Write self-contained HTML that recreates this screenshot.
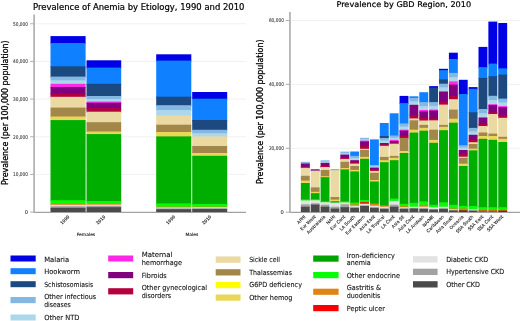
<!DOCTYPE html>
<html lang="en"><head><meta charset="utf-8"><title>Prevalence of Anemia by Etiology</title>
<style>html,body{margin:0;padding:0;background:#fff;}body{width:520px;height:321px;overflow:hidden;}svg{display:block;}#bl,#br{filter:blur(0.35px);}text{font-family:'DejaVu Sans', 'Liberation Sans', sans-serif;fill:#000;stroke:#000;stroke-width:0.2px;}.lg text{stroke:#111;stroke-width:0.1px;fill:#111;}.s text.t{stroke:#333;stroke-width:0.08px;fill:#333;}.s text{stroke:#222;stroke-width:0.12px;fill:#222;}.s text.b{stroke:#000;stroke-width:0.2px;fill:#000;}</style>
</head><body>
<svg width="520" height="321" viewBox="0 0 520 321">
<rect width="520" height="321" fill="#ffffff"/>
<g id="left-chart" class="s">
<line x1="34" y1="174.43" x2="246" y2="174.43" stroke="#ebebeb" stroke-width="0.7"/>
<line x1="34" y1="136.76" x2="246" y2="136.76" stroke="#ebebeb" stroke-width="0.7"/>
<line x1="34" y1="99.09" x2="246" y2="99.09" stroke="#ebebeb" stroke-width="0.7"/>
<line x1="34" y1="61.42" x2="246" y2="61.42" stroke="#ebebeb" stroke-width="0.7"/>
<line x1="34" y1="23.75" x2="246" y2="23.75" stroke="#ebebeb" stroke-width="0.7"/>
<line x1="30.2" y1="212.10" x2="34" y2="212.10" stroke="#8a8a8a" stroke-width="0.7"/>
<text class="t" x="28.0" y="214.00" font-size="5.2" text-anchor="end">0</text>
<line x1="30.2" y1="174.43" x2="34" y2="174.43" stroke="#8a8a8a" stroke-width="0.7"/>
<text class="t" x="28.0" y="176.33" font-size="5.2" text-anchor="end" textLength="15.0" lengthAdjust="spacingAndGlyphs">10,000</text>
<line x1="30.2" y1="136.76" x2="34" y2="136.76" stroke="#8a8a8a" stroke-width="0.7"/>
<text class="t" x="28.0" y="138.66" font-size="5.2" text-anchor="end" textLength="15.0" lengthAdjust="spacingAndGlyphs">20,000</text>
<line x1="30.2" y1="99.09" x2="34" y2="99.09" stroke="#8a8a8a" stroke-width="0.7"/>
<text class="t" x="28.0" y="100.99" font-size="5.2" text-anchor="end" textLength="15.0" lengthAdjust="spacingAndGlyphs">30,000</text>
<line x1="30.2" y1="61.42" x2="34" y2="61.42" stroke="#8a8a8a" stroke-width="0.7"/>
<text class="t" x="28.0" y="63.32" font-size="5.2" text-anchor="end" textLength="15.0" lengthAdjust="spacingAndGlyphs">40,000</text>
<line x1="30.2" y1="23.75" x2="34" y2="23.75" stroke="#8a8a8a" stroke-width="0.7"/>
<text class="t" x="28.0" y="25.65" font-size="5.2" text-anchor="end" textLength="15.0" lengthAdjust="spacingAndGlyphs">50,000</text>
<line x1="33.8" y1="212.3" x2="246" y2="212.3" stroke="#8a8a8a" stroke-width="1"/>
<g id="bl">
<rect x="50.50" y="36.10" width="35.10" height="7.90" fill="#0000e6"/><rect x="50.50" y="43.00" width="35.10" height="24.30" fill="#0f80ff"/><rect x="50.50" y="66.30" width="35.10" height="11.30" fill="#1c4a80"/><rect x="50.50" y="76.60" width="35.10" height="4.70" fill="#84b8e3"/><rect x="50.50" y="80.30" width="35.10" height="4.50" fill="#acd7ea"/><rect x="50.50" y="83.80" width="35.10" height="4.20" fill="#ff28e8"/><rect x="50.50" y="87.00" width="35.10" height="7.60" fill="#800080"/><rect x="50.50" y="93.60" width="35.10" height="4.20" fill="#b4003c"/><rect x="50.50" y="96.80" width="35.10" height="11.80" fill="#ead9a2"/><rect x="50.50" y="107.60" width="35.10" height="9.90" fill="#a3874a"/><rect x="50.50" y="116.50" width="35.10" height="4.60" fill="#ead658"/><rect x="50.50" y="120.10" width="35.10" height="81.10" fill="#00ae00"/><rect x="50.50" y="200.20" width="35.10" height="4.40" fill="#08fa08"/><rect x="50.50" y="203.60" width="35.10" height="2.20" fill="#e08214"/><rect x="50.50" y="204.80" width="35.10" height="2.50" fill="#e2e2e2"/><rect x="50.50" y="206.30" width="35.10" height="2.50" fill="#a2a2a2"/><rect x="50.50" y="207.80" width="35.10" height="4.20" fill="#4a4a4a"/>
<rect x="86.50" y="60.30" width="34.70" height="8.30" fill="#0000e6"/><rect x="86.50" y="67.60" width="34.70" height="17.20" fill="#0f80ff"/><rect x="86.50" y="83.80" width="34.70" height="13.20" fill="#1c4a80"/><rect x="86.50" y="96.00" width="34.70" height="4.00" fill="#84b8e3"/><rect x="86.50" y="99.00" width="34.70" height="3.60" fill="#acd7ea"/><rect x="86.50" y="101.60" width="34.70" height="2.20" fill="#ff28e8"/><rect x="86.50" y="102.80" width="34.70" height="6.40" fill="#800080"/><rect x="86.50" y="108.20" width="34.70" height="4.50" fill="#b4003c"/><rect x="86.50" y="111.70" width="34.70" height="11.50" fill="#ead9a2"/><rect x="86.50" y="122.20" width="34.70" height="10.30" fill="#a3874a"/><rect x="86.50" y="131.50" width="34.70" height="3.60" fill="#ead658"/><rect x="86.50" y="134.10" width="34.70" height="67.90" fill="#00ae00"/><rect x="86.50" y="201.00" width="34.70" height="3.60" fill="#08fa08"/><rect x="86.50" y="203.60" width="34.70" height="2.00" fill="#e08214"/><rect x="86.50" y="204.60" width="34.70" height="2.20" fill="#e2e2e2"/><rect x="86.50" y="205.80" width="34.70" height="2.40" fill="#a2a2a2"/><rect x="86.50" y="207.20" width="34.70" height="4.80" fill="#4a4a4a"/>
<rect x="156.20" y="54.30" width="35.10" height="7.30" fill="#0000e6"/><rect x="156.20" y="60.60" width="35.10" height="37.10" fill="#0f80ff"/><rect x="156.20" y="96.70" width="35.10" height="9.50" fill="#1c4a80"/><rect x="156.20" y="105.20" width="35.10" height="5.80" fill="#84b8e3"/><rect x="156.20" y="110.00" width="35.10" height="6.40" fill="#acd7ea"/><rect x="156.20" y="115.40" width="35.10" height="10.30" fill="#ead9a2"/><rect x="156.20" y="124.70" width="35.10" height="8.30" fill="#a3874a"/><rect x="156.20" y="132.00" width="35.10" height="5.40" fill="#ead658"/><rect x="156.20" y="136.40" width="35.10" height="68.00" fill="#00ae00"/><rect x="156.20" y="203.40" width="35.10" height="4.20" fill="#08fa08"/><rect x="156.20" y="206.60" width="35.10" height="1.80" fill="#e08214"/><rect x="156.20" y="207.40" width="35.10" height="2.00" fill="#e2e2e2"/><rect x="156.20" y="208.40" width="35.10" height="1.80" fill="#a2a2a2"/><rect x="156.20" y="209.20" width="35.10" height="2.80" fill="#4a4a4a"/>
<rect x="192.20" y="92.00" width="35.00" height="7.70" fill="#0000e6"/><rect x="192.20" y="98.70" width="35.00" height="22.30" fill="#0f80ff"/><rect x="192.20" y="120.00" width="35.00" height="10.80" fill="#1c4a80"/><rect x="192.20" y="129.80" width="35.00" height="4.40" fill="#84b8e3"/><rect x="192.20" y="133.20" width="35.00" height="4.20" fill="#acd7ea"/><rect x="192.20" y="136.40" width="35.00" height="10.60" fill="#ead9a2"/><rect x="192.20" y="146.00" width="35.00" height="8.00" fill="#a3874a"/><rect x="192.20" y="153.00" width="35.00" height="3.80" fill="#ead658"/><rect x="192.20" y="155.80" width="35.00" height="49.20" fill="#00ae00"/><rect x="192.20" y="204.00" width="35.00" height="3.60" fill="#08fa08"/><rect x="192.20" y="206.60" width="35.00" height="1.60" fill="#e08214"/><rect x="192.20" y="207.20" width="35.00" height="2.00" fill="#e2e2e2"/><rect x="192.20" y="208.20" width="35.00" height="1.80" fill="#a2a2a2"/><rect x="192.20" y="209.00" width="35.00" height="3.00" fill="#4a4a4a"/>
</g>
<line x1="34.1" y1="14.5" x2="34.1" y2="212.8" stroke="#b0b0b0" stroke-width="1.7"/>
<text class="b" x="33" y="10.45" font-size="8.05" textLength="211.5" lengthAdjust="spacingAndGlyphs">Prevalence of Anemia by Etiology, 1990 and 2010</text>
<text class="b" transform="translate(7.8,185) rotate(-90)" font-size="8.1" style="stroke-width:0.3px" textLength="144.6" lengthAdjust="spacingAndGlyphs">Prevalence (per 100,000 population)</text>
<text transform="translate(69.80,217.1) rotate(-45)" font-size="4.3" text-anchor="end">1990</text>
<text transform="translate(105.60,217.1) rotate(-45)" font-size="4.3" text-anchor="end">2010</text>
<text transform="translate(175.50,217.1) rotate(-45)" font-size="4.3" text-anchor="end">1990</text>
<text transform="translate(211.50,217.1) rotate(-45)" font-size="4.3" text-anchor="end">2010</text>
<text x="86" y="235.6" font-size="4.45" text-anchor="middle">Females</text>
<text x="191.8" y="235.6" font-size="4.45" text-anchor="middle">Males</text>
</g>
<g id="right-chart" class="s">
<line x1="290" y1="148.30" x2="520" y2="148.30" stroke="#ebebeb" stroke-width="0.7"/>
<line x1="290" y1="84.40" x2="520" y2="84.40" stroke="#ebebeb" stroke-width="0.7"/>
<line x1="290" y1="20.50" x2="520" y2="20.50" stroke="#ebebeb" stroke-width="0.7"/>
<line x1="285.8" y1="212.20" x2="290" y2="212.20" stroke="#8a8a8a" stroke-width="0.7"/>
<text class="t" x="283.9" y="214.10" font-size="5.2" text-anchor="end">0</text>
<line x1="285.8" y1="148.30" x2="290" y2="148.30" stroke="#8a8a8a" stroke-width="0.7"/>
<text class="t" x="283.9" y="150.20" font-size="5.2" text-anchor="end" textLength="15.0" lengthAdjust="spacingAndGlyphs">20,000</text>
<line x1="285.8" y1="84.40" x2="290" y2="84.40" stroke="#8a8a8a" stroke-width="0.7"/>
<text class="t" x="283.9" y="86.30" font-size="5.2" text-anchor="end" textLength="15.0" lengthAdjust="spacingAndGlyphs">40,000</text>
<line x1="285.8" y1="20.50" x2="290" y2="20.50" stroke="#8a8a8a" stroke-width="0.7"/>
<text class="t" x="283.9" y="22.40" font-size="5.2" text-anchor="end" textLength="15.0" lengthAdjust="spacingAndGlyphs">60,000</text>
<line x1="289.7" y1="212.3" x2="520" y2="212.3" stroke="#8a8a8a" stroke-width="1"/>
<g id="br">
<rect x="300.85" y="161.80" width="8.92" height="2.40" fill="#84b8e3"/><rect x="300.85" y="163.20" width="8.92" height="1.60" fill="#ff28e8"/><rect x="300.85" y="163.80" width="8.92" height="4.00" fill="#800080"/><rect x="300.85" y="166.80" width="8.92" height="2.00" fill="#b4003c"/><rect x="300.85" y="167.80" width="8.92" height="9.00" fill="#ead9a2"/><rect x="300.85" y="175.80" width="8.92" height="5.80" fill="#a3874a"/><rect x="300.85" y="180.60" width="8.92" height="3.40" fill="#ead658"/><rect x="300.85" y="183.00" width="8.92" height="17.40" fill="#00ae00"/><rect x="300.85" y="199.40" width="8.92" height="2.00" fill="#08fa08"/><rect x="300.85" y="200.40" width="8.92" height="4.90" fill="#e2e2e2"/><rect x="300.85" y="204.30" width="8.92" height="3.40" fill="#a2a2a2"/><rect x="300.85" y="206.70" width="8.92" height="5.30" fill="#4a4a4a"/>
<rect x="310.72" y="169.30" width="8.92" height="2.30" fill="#800080"/><rect x="310.72" y="170.60" width="8.92" height="17.80" fill="#ead9a2"/><rect x="310.72" y="187.40" width="8.92" height="5.40" fill="#a3874a"/><rect x="310.72" y="191.80" width="8.92" height="2.40" fill="#ead658"/><rect x="310.72" y="193.20" width="8.92" height="7.00" fill="#00ae00"/><rect x="310.72" y="199.20" width="8.92" height="2.00" fill="#08fa08"/><rect x="310.72" y="200.20" width="8.92" height="4.10" fill="#e2e2e2"/><rect x="310.72" y="203.30" width="8.92" height="2.30" fill="#a2a2a2"/><rect x="310.72" y="204.60" width="8.92" height="7.40" fill="#4a4a4a"/>
<rect x="320.59" y="160.30" width="8.92" height="2.30" fill="#84b8e3"/><rect x="320.59" y="161.60" width="8.92" height="2.30" fill="#acd7ea"/><rect x="320.59" y="162.90" width="8.92" height="4.10" fill="#800080"/><rect x="320.59" y="166.00" width="8.92" height="2.00" fill="#b4003c"/><rect x="320.59" y="167.00" width="8.92" height="4.00" fill="#ead9a2"/><rect x="320.59" y="170.00" width="8.92" height="7.20" fill="#a3874a"/><rect x="320.59" y="176.20" width="8.92" height="2.00" fill="#ead658"/><rect x="320.59" y="177.20" width="8.92" height="25.20" fill="#00ae00"/><rect x="320.59" y="201.40" width="8.92" height="1.80" fill="#08fa08"/><rect x="320.59" y="202.20" width="8.92" height="3.50" fill="#e2e2e2"/><rect x="320.59" y="204.70" width="8.92" height="3.00" fill="#a2a2a2"/><rect x="320.59" y="206.70" width="8.92" height="5.30" fill="#4a4a4a"/>
<rect x="330.46" y="169.00" width="8.92" height="2.20" fill="#84b8e3"/><rect x="330.46" y="170.20" width="8.92" height="27.80" fill="#ead9a2"/><rect x="330.46" y="197.00" width="8.92" height="3.60" fill="#a3874a"/><rect x="330.46" y="199.60" width="8.92" height="2.60" fill="#ead658"/><rect x="330.46" y="201.20" width="8.92" height="2.40" fill="#00ae00"/><rect x="330.46" y="202.60" width="8.92" height="5.10" fill="#e2e2e2"/><rect x="330.46" y="206.70" width="8.92" height="2.90" fill="#a2a2a2"/><rect x="330.46" y="208.60" width="8.92" height="3.40" fill="#4a4a4a"/>
<rect x="340.33" y="151.60" width="8.92" height="2.50" fill="#84b8e3"/><rect x="340.33" y="153.10" width="8.92" height="2.50" fill="#acd7ea"/><rect x="340.33" y="154.60" width="8.92" height="4.00" fill="#800080"/><rect x="340.33" y="157.60" width="8.92" height="2.30" fill="#b4003c"/><rect x="340.33" y="158.90" width="8.92" height="3.90" fill="#ead9a2"/><rect x="340.33" y="161.80" width="8.92" height="7.20" fill="#a3874a"/><rect x="340.33" y="168.00" width="8.92" height="2.40" fill="#ead658"/><rect x="340.33" y="169.40" width="8.92" height="33.00" fill="#00ae00"/><rect x="340.33" y="201.40" width="8.92" height="2.00" fill="#08fa08"/><rect x="340.33" y="202.40" width="8.92" height="2.90" fill="#e2e2e2"/><rect x="340.33" y="204.30" width="8.92" height="3.90" fill="#a2a2a2"/><rect x="340.33" y="207.20" width="8.92" height="4.80" fill="#4a4a4a"/>
<rect x="350.20" y="151.50" width="8.92" height="5.40" fill="#0f80ff"/><rect x="350.20" y="155.90" width="8.92" height="3.15" fill="#84b8e3"/><rect x="350.20" y="158.05" width="8.92" height="3.15" fill="#acd7ea"/><rect x="350.20" y="160.20" width="8.92" height="3.00" fill="#800080"/><rect x="350.20" y="162.20" width="8.92" height="2.40" fill="#b4003c"/><rect x="350.20" y="163.60" width="8.92" height="3.40" fill="#ead9a2"/><rect x="350.20" y="166.00" width="8.92" height="4.90" fill="#a3874a"/><rect x="350.20" y="169.90" width="8.92" height="2.50" fill="#ead658"/><rect x="350.20" y="171.40" width="8.92" height="32.20" fill="#00ae00"/><rect x="350.20" y="202.60" width="8.92" height="2.70" fill="#08fa08"/><rect x="350.20" y="204.30" width="8.92" height="2.40" fill="#e08214"/><rect x="350.20" y="205.70" width="8.92" height="2.90" fill="#e2e2e2"/><rect x="350.20" y="207.60" width="8.92" height="4.40" fill="#4a4a4a"/>
<rect x="360.07" y="137.80" width="8.92" height="2.40" fill="#84b8e3"/><rect x="360.07" y="139.20" width="8.92" height="2.40" fill="#acd7ea"/><rect x="360.07" y="140.60" width="8.92" height="1.90" fill="#ff28e8"/><rect x="360.07" y="141.50" width="8.92" height="5.60" fill="#800080"/><rect x="360.07" y="146.10" width="8.92" height="3.70" fill="#b4003c"/><rect x="360.07" y="148.80" width="8.92" height="2.20" fill="#ead9a2"/><rect x="360.07" y="150.00" width="8.92" height="7.90" fill="#a3874a"/><rect x="360.07" y="156.90" width="8.92" height="2.90" fill="#ead658"/><rect x="360.07" y="158.80" width="8.92" height="42.20" fill="#00ae00"/><rect x="360.07" y="200.00" width="8.92" height="2.90" fill="#08fa08"/><rect x="360.07" y="201.90" width="8.92" height="2.90" fill="#e02810"/><rect x="360.07" y="203.80" width="8.92" height="2.90" fill="#e2e2e2"/><rect x="360.07" y="205.70" width="8.92" height="6.30" fill="#4a4a4a"/>
<rect x="369.94" y="139.40" width="8.92" height="26.60" fill="#0f80ff"/><rect x="369.94" y="165.00" width="8.92" height="2.30" fill="#84b8e3"/><rect x="369.94" y="166.30" width="8.92" height="2.30" fill="#acd7ea"/><rect x="369.94" y="167.60" width="8.92" height="2.80" fill="#800080"/><rect x="369.94" y="169.40" width="8.92" height="2.50" fill="#b4003c"/><rect x="369.94" y="170.90" width="8.92" height="2.90" fill="#ead9a2"/><rect x="369.94" y="172.80" width="8.92" height="8.20" fill="#a3874a"/><rect x="369.94" y="180.00" width="8.92" height="2.50" fill="#ead658"/><rect x="369.94" y="181.50" width="8.92" height="23.10" fill="#00ae00"/><rect x="369.94" y="203.60" width="8.92" height="3.10" fill="#e08214"/><rect x="369.94" y="205.70" width="8.92" height="2.90" fill="#e2e2e2"/><rect x="369.94" y="207.60" width="8.92" height="4.40" fill="#4a4a4a"/>
<rect x="379.81" y="123.00" width="8.92" height="14.00" fill="#0f80ff"/><rect x="379.81" y="136.00" width="8.92" height="3.00" fill="#1c4a80"/><rect x="379.81" y="138.00" width="8.92" height="3.50" fill="#84b8e3"/><rect x="379.81" y="140.50" width="8.92" height="3.50" fill="#acd7ea"/><rect x="379.81" y="143.00" width="8.92" height="2.40" fill="#800080"/><rect x="379.81" y="144.40" width="8.92" height="2.40" fill="#b4003c"/><rect x="379.81" y="145.80" width="8.92" height="12.10" fill="#ead9a2"/><rect x="379.81" y="156.90" width="8.92" height="4.30" fill="#a3874a"/><rect x="379.81" y="160.20" width="8.92" height="3.00" fill="#ead658"/><rect x="379.81" y="162.20" width="8.92" height="44.20" fill="#00ae00"/><rect x="379.81" y="205.40" width="8.92" height="2.30" fill="#e08214"/><rect x="379.81" y="206.70" width="8.92" height="2.90" fill="#e2e2e2"/><rect x="379.81" y="208.60" width="8.92" height="3.40" fill="#4a4a4a"/>
<rect x="389.68" y="113.30" width="8.92" height="23.20" fill="#0f80ff"/><rect x="389.68" y="135.50" width="8.92" height="3.20" fill="#84b8e3"/><rect x="389.68" y="137.70" width="8.92" height="3.20" fill="#acd7ea"/><rect x="389.68" y="139.90" width="8.92" height="2.10" fill="#ff28e8"/><rect x="389.68" y="141.00" width="8.92" height="2.60" fill="#800080"/><rect x="389.68" y="142.60" width="8.92" height="2.10" fill="#b4003c"/><rect x="389.68" y="143.70" width="8.92" height="13.20" fill="#ead9a2"/><rect x="389.68" y="155.90" width="8.92" height="2.90" fill="#a3874a"/><rect x="389.68" y="157.80" width="8.92" height="3.40" fill="#ead658"/><rect x="389.68" y="160.20" width="8.92" height="39.30" fill="#00ae00"/><rect x="389.68" y="198.50" width="8.92" height="3.40" fill="#08fa08"/><rect x="389.68" y="200.90" width="8.92" height="4.80" fill="#e2e2e2"/><rect x="389.68" y="204.70" width="8.92" height="3.00" fill="#a2a2a2"/><rect x="389.68" y="206.70" width="8.92" height="5.30" fill="#4a4a4a"/>
<rect x="399.55" y="95.90" width="8.92" height="8.20" fill="#0000e6"/><rect x="399.55" y="103.10" width="8.92" height="21.30" fill="#0f80ff"/><rect x="399.55" y="123.40" width="8.92" height="4.15" fill="#84b8e3"/><rect x="399.55" y="126.55" width="8.92" height="4.15" fill="#acd7ea"/><rect x="399.55" y="129.70" width="8.92" height="1.90" fill="#ff28e8"/><rect x="399.55" y="130.60" width="8.92" height="5.90" fill="#800080"/><rect x="399.55" y="135.50" width="8.92" height="3.40" fill="#b4003c"/><rect x="399.55" y="137.90" width="8.92" height="14.10" fill="#a3874a"/><rect x="399.55" y="151.00" width="8.92" height="3.00" fill="#ead658"/><rect x="399.55" y="153.00" width="8.92" height="51.80" fill="#00ae00"/><rect x="399.55" y="203.80" width="8.92" height="3.40" fill="#08fa08"/><rect x="399.55" y="206.20" width="8.92" height="2.00" fill="#e08214"/><rect x="399.55" y="207.20" width="8.92" height="2.40" fill="#e2e2e2"/><rect x="399.55" y="208.60" width="8.92" height="3.40" fill="#4a4a4a"/>
<rect x="409.42" y="96.30" width="8.92" height="2.60" fill="#0f80ff"/><rect x="409.42" y="97.90" width="8.92" height="4.45" fill="#84b8e3"/><rect x="409.42" y="101.35" width="8.92" height="4.45" fill="#acd7ea"/><rect x="409.42" y="104.80" width="8.92" height="11.00" fill="#800080"/><rect x="409.42" y="114.80" width="8.92" height="4.60" fill="#b4003c"/><rect x="409.42" y="118.40" width="8.92" height="2.90" fill="#ead9a2"/><rect x="409.42" y="120.30" width="8.92" height="10.40" fill="#a3874a"/><rect x="409.42" y="129.70" width="8.92" height="3.90" fill="#ead658"/><rect x="409.42" y="132.60" width="8.92" height="71.20" fill="#00ae00"/><rect x="409.42" y="202.80" width="8.92" height="4.90" fill="#08fa08"/><rect x="409.42" y="206.70" width="8.92" height="2.60" fill="#e2e2e2"/><rect x="409.42" y="208.30" width="8.92" height="3.70" fill="#4a4a4a"/>
<rect x="419.29" y="92.20" width="8.92" height="10.90" fill="#0f80ff"/><rect x="419.29" y="102.10" width="8.92" height="4.95" fill="#84b8e3"/><rect x="419.29" y="106.05" width="8.92" height="4.95" fill="#acd7ea"/><rect x="419.29" y="110.00" width="8.92" height="2.50" fill="#ff28e8"/><rect x="419.29" y="111.50" width="8.92" height="7.10" fill="#800080"/><rect x="419.29" y="117.60" width="8.92" height="3.90" fill="#b4003c"/><rect x="419.29" y="120.50" width="8.92" height="5.40" fill="#ead9a2"/><rect x="419.29" y="124.90" width="8.92" height="3.90" fill="#a3874a"/><rect x="419.29" y="127.80" width="8.92" height="3.90" fill="#ead658"/><rect x="419.29" y="130.70" width="8.92" height="71.70" fill="#00ae00"/><rect x="419.29" y="201.40" width="8.92" height="4.40" fill="#08fa08"/><rect x="419.29" y="204.80" width="8.92" height="2.90" fill="#e08214"/><rect x="419.29" y="206.70" width="8.92" height="2.90" fill="#e2e2e2"/><rect x="419.29" y="208.60" width="8.92" height="3.40" fill="#4a4a4a"/>
<rect x="429.16" y="86.10" width="8.92" height="2.50" fill="#0000e6"/><rect x="429.16" y="87.60" width="8.92" height="15.50" fill="#1c4a80"/><rect x="429.16" y="102.10" width="8.92" height="4.75" fill="#84b8e3"/><rect x="429.16" y="105.85" width="8.92" height="4.75" fill="#acd7ea"/><rect x="429.16" y="109.60" width="8.92" height="2.00" fill="#ff28e8"/><rect x="429.16" y="110.60" width="8.92" height="8.70" fill="#800080"/><rect x="429.16" y="118.30" width="8.92" height="3.00" fill="#b4003c"/><rect x="429.16" y="120.30" width="8.92" height="10.40" fill="#ead9a2"/><rect x="429.16" y="129.70" width="8.92" height="11.20" fill="#a3874a"/><rect x="429.16" y="139.90" width="8.92" height="3.90" fill="#ead658"/><rect x="429.16" y="142.80" width="8.92" height="63.00" fill="#00ae00"/><rect x="429.16" y="204.80" width="8.92" height="3.40" fill="#08fa08"/><rect x="429.16" y="207.20" width="8.92" height="3.20" fill="#e2e2e2"/><rect x="429.16" y="209.40" width="8.92" height="2.60" fill="#4a4a4a"/>
<rect x="439.03" y="68.80" width="8.92" height="2.40" fill="#0000e6"/><rect x="439.03" y="70.20" width="8.92" height="10.20" fill="#0f80ff"/><rect x="439.03" y="79.40" width="8.92" height="5.30" fill="#1c4a80"/><rect x="439.03" y="83.70" width="8.92" height="4.65" fill="#84b8e3"/><rect x="439.03" y="87.35" width="8.92" height="4.65" fill="#acd7ea"/><rect x="439.03" y="91.00" width="8.92" height="2.00" fill="#ff28e8"/><rect x="439.03" y="92.00" width="8.92" height="10.60" fill="#800080"/><rect x="439.03" y="101.60" width="8.92" height="4.00" fill="#b4003c"/><rect x="439.03" y="104.60" width="8.92" height="21.30" fill="#ead9a2"/><rect x="439.03" y="124.90" width="8.92" height="2.90" fill="#a3874a"/><rect x="439.03" y="126.80" width="8.92" height="4.40" fill="#ead658"/><rect x="439.03" y="130.20" width="8.92" height="73.10" fill="#00ae00"/><rect x="439.03" y="202.30" width="8.92" height="5.40" fill="#08fa08"/><rect x="439.03" y="206.70" width="8.92" height="2.90" fill="#e2e2e2"/><rect x="439.03" y="208.60" width="8.92" height="3.40" fill="#4a4a4a"/>
<rect x="448.90" y="52.70" width="8.92" height="7.30" fill="#0000e6"/><rect x="448.90" y="59.00" width="8.92" height="14.90" fill="#0f80ff"/><rect x="448.90" y="72.90" width="8.92" height="5.25" fill="#84b8e3"/><rect x="448.90" y="77.15" width="8.92" height="5.25" fill="#acd7ea"/><rect x="448.90" y="81.40" width="8.92" height="4.20" fill="#ff28e8"/><rect x="448.90" y="84.60" width="8.92" height="12.20" fill="#800080"/><rect x="448.90" y="95.80" width="8.92" height="4.40" fill="#b4003c"/><rect x="448.90" y="99.20" width="8.92" height="11.40" fill="#ead9a2"/><rect x="448.90" y="109.60" width="8.92" height="10.10" fill="#a3874a"/><rect x="448.90" y="118.70" width="8.92" height="5.00" fill="#ead658"/><rect x="448.90" y="122.70" width="8.92" height="83.10" fill="#00ae00"/><rect x="448.90" y="204.80" width="8.92" height="4.60" fill="#08fa08"/><rect x="448.90" y="208.40" width="8.92" height="1.90" fill="#e08214"/><rect x="448.90" y="209.30" width="8.92" height="2.00" fill="#e2e2e2"/><rect x="448.90" y="210.30" width="8.92" height="1.70" fill="#4a4a4a"/>
<rect x="458.77" y="79.80" width="8.92" height="15.20" fill="#0000e6"/><rect x="458.77" y="94.00" width="8.92" height="52.20" fill="#0f80ff"/><rect x="458.77" y="145.20" width="8.92" height="3.40" fill="#84b8e3"/><rect x="458.77" y="147.60" width="8.92" height="3.40" fill="#acd7ea"/><rect x="458.77" y="150.00" width="8.92" height="4.80" fill="#800080"/><rect x="458.77" y="153.80" width="8.92" height="3.90" fill="#b4003c"/><rect x="458.77" y="156.70" width="8.92" height="2.20" fill="#ead9a2"/><rect x="458.77" y="157.90" width="8.92" height="6.70" fill="#a3874a"/><rect x="458.77" y="163.60" width="8.92" height="3.40" fill="#ead658"/><rect x="458.77" y="166.00" width="8.92" height="40.90" fill="#00ae00"/><rect x="458.77" y="205.90" width="8.92" height="3.60" fill="#08fa08"/><rect x="458.77" y="208.50" width="8.92" height="2.80" fill="#e08214"/><rect x="458.77" y="210.30" width="8.92" height="1.70" fill="#6a2a22"/>
<rect x="468.64" y="87.10" width="8.92" height="2.70" fill="#0000e6"/><rect x="468.64" y="88.80" width="8.92" height="24.50" fill="#0f80ff"/><rect x="468.64" y="112.30" width="8.92" height="16.60" fill="#1c4a80"/><rect x="468.64" y="127.90" width="8.92" height="4.45" fill="#84b8e3"/><rect x="468.64" y="131.35" width="8.92" height="4.45" fill="#acd7ea"/><rect x="468.64" y="134.80" width="8.92" height="6.20" fill="#800080"/><rect x="468.64" y="140.00" width="8.92" height="3.20" fill="#b4003c"/><rect x="468.64" y="142.20" width="8.92" height="2.80" fill="#ead9a2"/><rect x="468.64" y="144.00" width="8.92" height="5.60" fill="#a3874a"/><rect x="468.64" y="148.60" width="8.92" height="2.80" fill="#ead658"/><rect x="468.64" y="150.40" width="8.92" height="56.60" fill="#00ae00"/><rect x="468.64" y="206.00" width="8.92" height="4.30" fill="#08fa08"/><rect x="468.64" y="209.30" width="8.92" height="2.20" fill="#e2e2e2"/><rect x="468.64" y="210.50" width="8.92" height="1.50" fill="#4a4a4a"/>
<rect x="478.51" y="46.90" width="8.92" height="21.20" fill="#0000e6"/><rect x="478.51" y="67.10" width="8.92" height="11.80" fill="#0f80ff"/><rect x="478.51" y="77.90" width="8.92" height="32.10" fill="#1c4a80"/><rect x="478.51" y="109.00" width="8.92" height="5.25" fill="#84b8e3"/><rect x="478.51" y="113.25" width="8.92" height="5.25" fill="#acd7ea"/><rect x="478.51" y="117.50" width="8.92" height="7.30" fill="#800080"/><rect x="478.51" y="123.80" width="8.92" height="3.20" fill="#b4003c"/><rect x="478.51" y="126.00" width="8.92" height="7.50" fill="#ead9a2"/><rect x="478.51" y="132.50" width="8.92" height="4.50" fill="#a3874a"/><rect x="478.51" y="136.00" width="8.92" height="3.80" fill="#ead658"/><rect x="478.51" y="138.80" width="8.92" height="69.40" fill="#00ae00"/><rect x="478.51" y="207.20" width="8.92" height="3.30" fill="#08fa08"/><rect x="478.51" y="209.50" width="8.92" height="2.00" fill="#e08214"/><rect x="478.51" y="210.50" width="8.92" height="1.50" fill="#9a5a28"/>
<rect x="488.38" y="21.60" width="8.92" height="43.00" fill="#0000e6"/><rect x="488.38" y="63.60" width="8.92" height="13.60" fill="#0f80ff"/><rect x="488.38" y="76.20" width="8.92" height="20.60" fill="#1c4a80"/><rect x="488.38" y="95.80" width="8.92" height="5.20" fill="#84b8e3"/><rect x="488.38" y="100.00" width="8.92" height="5.20" fill="#acd7ea"/><rect x="488.38" y="104.20" width="8.92" height="2.00" fill="#ff28e8"/><rect x="488.38" y="105.20" width="8.92" height="8.10" fill="#800080"/><rect x="488.38" y="112.30" width="8.92" height="2.70" fill="#b4003c"/><rect x="488.38" y="114.00" width="8.92" height="20.60" fill="#ead9a2"/><rect x="488.38" y="133.60" width="8.92" height="3.40" fill="#a3874a"/><rect x="488.38" y="136.00" width="8.92" height="4.80" fill="#ead658"/><rect x="488.38" y="139.80" width="8.92" height="68.40" fill="#00ae00"/><rect x="488.38" y="207.20" width="8.92" height="3.40" fill="#08fa08"/><rect x="488.38" y="209.60" width="8.92" height="2.00" fill="#e08214"/><rect x="488.38" y="210.60" width="8.92" height="1.40" fill="#9a5a28"/>
<rect x="498.25" y="23.00" width="8.92" height="46.30" fill="#0000e6"/><rect x="498.25" y="68.30" width="8.92" height="7.30" fill="#0f80ff"/><rect x="498.25" y="74.60" width="8.92" height="25.00" fill="#1c4a80"/><rect x="498.25" y="98.60" width="8.92" height="4.75" fill="#84b8e3"/><rect x="498.25" y="102.35" width="8.92" height="4.75" fill="#acd7ea"/><rect x="498.25" y="106.10" width="8.92" height="2.20" fill="#ff28e8"/><rect x="498.25" y="107.30" width="8.92" height="8.90" fill="#800080"/><rect x="498.25" y="115.20" width="8.92" height="3.60" fill="#b4003c"/><rect x="498.25" y="117.80" width="8.92" height="20.00" fill="#ead9a2"/><rect x="498.25" y="136.80" width="8.92" height="3.00" fill="#a3874a"/><rect x="498.25" y="138.80" width="8.92" height="4.20" fill="#ead658"/><rect x="498.25" y="142.00" width="8.92" height="66.20" fill="#00ae00"/><rect x="498.25" y="207.20" width="8.92" height="3.40" fill="#08fa08"/><rect x="498.25" y="209.60" width="8.92" height="2.00" fill="#e08214"/><rect x="498.25" y="210.60" width="8.92" height="1.40" fill="#6a2a22"/>
</g>
<line x1="289.95" y1="12" x2="289.95" y2="212.8" stroke="#b0b0b0" stroke-width="1.7"/>
<text class="b" x="336.4" y="7.25" font-size="7.85" textLength="134.8" lengthAdjust="spacingAndGlyphs">Prevalence by GBD Region, 2010</text>
<text class="b" transform="translate(262.5,184.1) rotate(-90)" font-size="8.1" style="stroke-width:0.3px" textLength="144.6" lengthAdjust="spacingAndGlyphs">Prevalence (per 100,000 population)</text>
<text transform="translate(306.01,217.0) rotate(-45)" font-size="4.4" text-anchor="end">APHI</text>
<text transform="translate(315.88,217.0) rotate(-45)" font-size="4.4" text-anchor="end">Eur West</text>
<text transform="translate(325.75,217.0) rotate(-45)" font-size="4.4" text-anchor="end">Australasia</text>
<text transform="translate(335.62,217.0) rotate(-45)" font-size="4.4" text-anchor="end">NAHI</text>
<text transform="translate(345.49,217.0) rotate(-45)" font-size="4.4" text-anchor="end">Eur Cent</text>
<text transform="translate(355.36,217.0) rotate(-45)" font-size="4.4" text-anchor="end">LA South</text>
<text transform="translate(365.23,217.0) rotate(-45)" font-size="4.4" text-anchor="end">Eur Eastern</text>
<text transform="translate(375.10,217.0) rotate(-45)" font-size="4.4" text-anchor="end">Asia East</text>
<text transform="translate(384.97,217.0) rotate(-45)" font-size="4.4" text-anchor="end">LA Tropical</text>
<text transform="translate(394.84,217.0) rotate(-45)" font-size="4.4" text-anchor="end">LA Cent</text>
<text transform="translate(404.71,217.0) rotate(-45)" font-size="4.4" text-anchor="end">Asia SE</text>
<text transform="translate(414.58,217.0) rotate(-45)" font-size="4.4" text-anchor="end">Asia Cent</text>
<text transform="translate(424.45,217.0) rotate(-45)" font-size="4.4" text-anchor="end">LA Andean</text>
<text transform="translate(434.32,217.0) rotate(-45)" font-size="4.4" text-anchor="end">NA/ME</text>
<text transform="translate(444.19,217.0) rotate(-45)" font-size="4.4" text-anchor="end">Caribbean</text>
<text transform="translate(454.06,217.0) rotate(-45)" font-size="4.4" text-anchor="end">Asia South</text>
<text transform="translate(463.93,217.0) rotate(-45)" font-size="4.4" text-anchor="end">Oceania</text>
<text transform="translate(473.80,217.0) rotate(-45)" font-size="4.4" text-anchor="end">SSA South</text>
<text transform="translate(483.67,217.0) rotate(-45)" font-size="4.4" text-anchor="end">SSA East</text>
<text transform="translate(493.54,217.0) rotate(-45)" font-size="4.4" text-anchor="end">SSA Cent</text>
<text transform="translate(503.41,217.0) rotate(-45)" font-size="4.4" text-anchor="end">SSA West</text>
</g>
<g id="legend" class="lg" font-size="7">
<rect x="10.50" y="255.50" width="25.20" height="6.00" fill="#0000e6"/>
<text x="44.20" y="261.50" textLength="25" lengthAdjust="spacingAndGlyphs">Malaria</text>
<rect x="10.50" y="268.20" width="25.20" height="6.00" fill="#0f80ff"/>
<text x="44.20" y="273.60" textLength="35.75" lengthAdjust="spacingAndGlyphs">Hookworm</text>
<rect x="10.50" y="281.20" width="25.20" height="6.00" fill="#1c4a80"/>
<text x="44.20" y="286.50" textLength="49" lengthAdjust="spacingAndGlyphs">Schistosomiasis</text>
<rect x="10.50" y="297.00" width="25.20" height="6.20" fill="#84b8e3"/>
<text x="44.20" y="298.70" textLength="52" lengthAdjust="spacingAndGlyphs">Other infectious</text>
<text x="44.20" y="306.70" textLength="26.5" lengthAdjust="spacingAndGlyphs">diseases</text>
<rect x="10.50" y="314.50" width="25.20" height="6.00" fill="#acd7ea"/>
<text x="44.20" y="319.60" textLength="35.25" lengthAdjust="spacingAndGlyphs">Other NTD</text>
<rect x="108.20" y="255.50" width="25.00" height="6.00" fill="#ff28e8"/>
<text x="141.70" y="257.30" textLength="30.75" lengthAdjust="spacingAndGlyphs">Maternal</text>
<text x="141.70" y="265.30" textLength="40.25" lengthAdjust="spacingAndGlyphs">hemorrhage</text>
<rect x="108.20" y="272.00" width="25.00" height="6.20" fill="#800080"/>
<text x="141.70" y="277.80" textLength="25" lengthAdjust="spacingAndGlyphs">Fibroids</text>
<rect x="108.20" y="288.20" width="25.00" height="6.20" fill="#b4003c"/>
<text x="141.70" y="290.30" textLength="65.25" lengthAdjust="spacingAndGlyphs">Other gynecological</text>
<text x="141.70" y="298.10" textLength="29.5" lengthAdjust="spacingAndGlyphs">disorders</text>
<rect x="215.70" y="256.40" width="24.80" height="6.40" fill="#ead9a2"/>
<text x="249.20" y="262.30" textLength="30.75" lengthAdjust="spacingAndGlyphs">Sickle cell</text>
<rect x="215.70" y="269.20" width="24.80" height="6.30" fill="#a3874a"/>
<text x="249.20" y="274.70" textLength="42.75" lengthAdjust="spacingAndGlyphs">Thalassemias</text>
<rect x="215.70" y="282.00" width="24.80" height="6.20" fill="#ffff00"/>
<text x="249.20" y="287.30" textLength="52.75" lengthAdjust="spacingAndGlyphs">G6PD deficiency</text>
<rect x="215.70" y="294.50" width="24.80" height="6.20" fill="#ead658"/>
<text x="249.20" y="300.30" textLength="43.25" lengthAdjust="spacingAndGlyphs">Other hemog</text>
<rect x="313.20" y="255.50" width="25.40" height="6.20" fill="#00a400"/>
<text x="346.70" y="257.50" textLength="48.25" lengthAdjust="spacingAndGlyphs">Iron-deficiency</text>
<text x="346.70" y="265.30" textLength="24" lengthAdjust="spacingAndGlyphs">anemia</text>
<rect x="313.20" y="272.00" width="25.40" height="6.20" fill="#04ff04"/>
<text x="346.70" y="277.80" textLength="53.25" lengthAdjust="spacingAndGlyphs">Other endocrine</text>
<rect x="313.20" y="288.70" width="25.40" height="6.10" fill="#e08214"/>
<text x="346.70" y="290.30" textLength="34.5" lengthAdjust="spacingAndGlyphs">Gastritis &amp;</text>
<text x="346.70" y="298.10" textLength="33.75" lengthAdjust="spacingAndGlyphs">duodenitis</text>
<rect x="313.20" y="305.00" width="25.40" height="6.20" fill="#fa0000"/>
<text x="346.70" y="310.50" textLength="38.25" lengthAdjust="spacingAndGlyphs">Peptic ulcer</text>
<rect x="413.00" y="256.20" width="24.60" height="6.30" fill="#e2e2e2"/>
<text x="446.20" y="261.80" textLength="42" lengthAdjust="spacingAndGlyphs">Diabetic CKD</text>
<rect x="413.00" y="268.70" width="24.60" height="6.30" fill="#a2a2a2"/>
<text x="446.20" y="274.30" textLength="58" lengthAdjust="spacingAndGlyphs">Hypertensive CKD</text>
<rect x="413.00" y="281.20" width="24.60" height="6.30" fill="#4a4a4a"/>
<text x="446.20" y="286.80" textLength="33.75" lengthAdjust="spacingAndGlyphs">Other CKD</text>
</g>
</svg>
</body></html>
